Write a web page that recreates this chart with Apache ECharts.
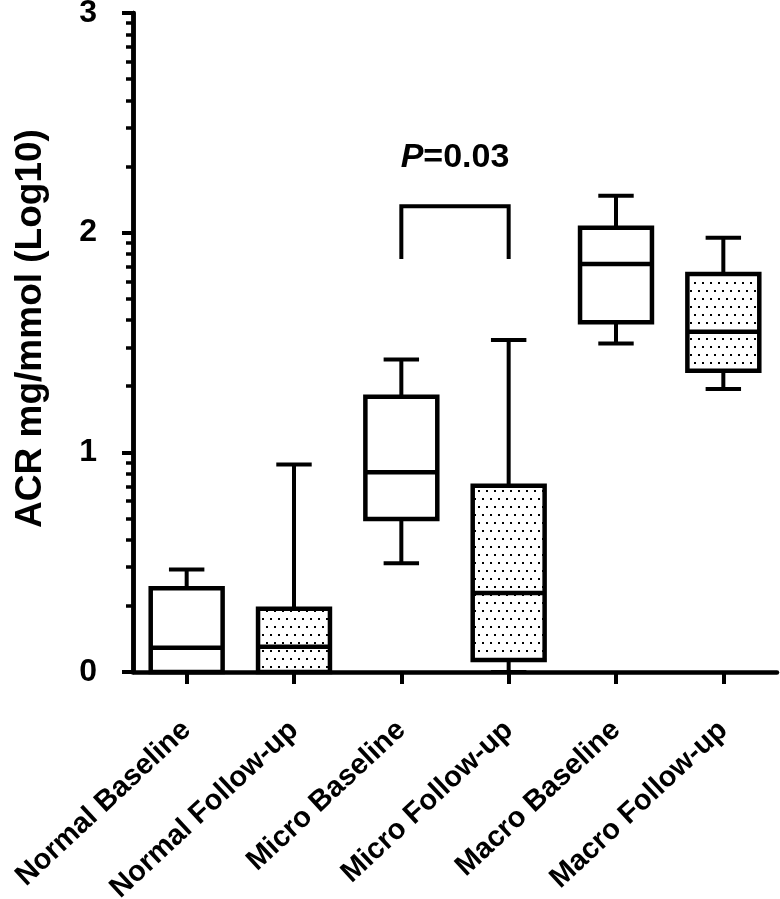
<!DOCTYPE html>
<html>
<head>
<meta charset="utf-8">
<script src="https://cdn.jsdelivr.net/npm/echarts@6/dist/echarts.min.js"></script>
<style>
html,body{margin:0;padding:0;background:#fff;}
#chart{width:780px;height:899px;}
</style>
</head>
<body>
<div id="chart"></div>
<script>
// ---- data ----
const categories = ['Normal Baseline','Normal Follow-up','Micro Baseline','Micro Follow-up','Macro Baseline','Macro Follow-up'];
const whiskerLow  = [0,     0,     0.495, 0,     1.496, 1.288];
const q1          = [0,     0,     0.696, 0.055, 1.592, 1.371];
const median      = [0.11,  0.115, 0.909, 0.36,  1.857, 1.549];
const q3          = [0.381, 0.288, 1.253, 0.848, 2.022, 1.812];
const whiskerHigh = [0.467, 0.945, 1.423, 1.511, 2.168, 1.977];
const dotted      = [0, 1, 0, 1, 0, 1];

const majorTicks = [0, 1, 2, 3];
const minorTicks = [0.301,0.477,0.602,0.699,0.778,0.845,0.903,0.954,
                    1.301,1.477,1.602,1.699,1.778,1.845,1.903,1.954,
                    2.301,2.477,2.602,2.699,2.778,2.845,2.903,2.954];

const sigFrom = 2, sigTo = 3;
const sigTop = 2.12, sigBottom = 1.88, sigLabelY = 2.34;
const sigItalic = 'P', sigRest = '=0.03';

const yTitle = 'ACR mg/mmol (Log10)';
// ---------------

const FONT = '"Liberation Sans", Arial, Helvetica, sans-serif';

// dot pattern
const pc = document.createElement('canvas');
pc.width = 8; pc.height = 16;
const pctx = pc.getContext('2d');
pctx.fillStyle = '#fff'; pctx.fillRect(0,0,8,16);
pctx.fillStyle = '#000';
pctx.fillRect(2,2,2,2);
pctx.fillRect(6,10,2,2);
const dotPattern = {image: pc, repeat: 'repeat'};

const boxData = categories.map((c,i)=>[i, whiskerLow[i], q1[i], median[i], q3[i], whiskerHigh[i], dotted[i]]);

function renderBox(params, api){
  const i = api.value(0);
  const lo = api.value(1), a = api.value(2), m = api.value(3), b = api.value(4), hi = api.value(5), dot = api.value(6);
  const band = api.size([1,0])[0];
  const bw = band*0.67, cw = band*0.33;
  const pHi = api.coord([i,hi]), pB = api.coord([i,b]), pM = api.coord([i,m]), pA = api.coord([i,a]), pLo = api.coord([i,lo]);
  const x = pHi[0];
  const ls = {stroke:'#000', lineWidth:4, fill:null};
  const ch = [];
  ch.push({type:'line', shape:{x1:x,y1:pB[1],x2:x,y2:pHi[1]}, style:ls});
  ch.push({type:'line', shape:{x1:x-cw/2,y1:pHi[1],x2:x+cw/2,y2:pHi[1]}, style:ls});
  if (lo < a) {
    ch.push({type:'line', shape:{x1:x,y1:pA[1],x2:x,y2:pLo[1]}, style:ls});
    ch.push({type:'line', shape:{x1:x-cw/2,y1:pLo[1],x2:x+cw/2,y2:pLo[1]}, style:ls});
  }
  ch.push({type:'rect', shape:{x:x-bw/2, y:pB[1], width:bw, height:pA[1]-pB[1]},
           style:{fill: dot ? dotPattern : '#fff', stroke:'#000', lineWidth:4.5}});
  ch.push({type:'line', shape:{x1:x-bw/2,y1:pM[1],x2:x+bw/2,y2:pM[1]}, style:{stroke:'#000', lineWidth:4.5}});
  return {type:'group', children:ch};
}

function renderSig(params, api){
  const p1t = api.coord([api.value(0), api.value(2)]);
  const p2t = api.coord([api.value(1), api.value(2)]);
  const pb = api.coord([api.value(0), api.value(3)]);
  const pl = api.coord([api.value(0), api.value(4)]);
  return {type:'group', children:[
    {type:'polyline', shape:{points:[[p1t[0],pb[1]],[p1t[0],p1t[1]],[p2t[0],p2t[1]],[p2t[0],pb[1]]]},
     style:{stroke:'#000', lineWidth:4, fill:null}},
    {type:'text', style:{
      x:(p1t[0]+p2t[0])/2, y:pl[1], align:'center', verticalAlign:'middle',
      text:'{i|'+sigItalic+'}{n|'+sigRest+'}',
      rich:{
        i:{fontSize:34, fontWeight:'bold', fontStyle:'italic', fontFamily:FONT, fill:'#000'},
        n:{fontSize:34, fontWeight:'bold', fontFamily:FONT, fill:'#000'}
      }
    }}
  ]};
}

const chart = echarts.init(document.getElementById('chart'), null, {renderer:'canvas'});
chart.setOption({
  animation:false,
  backgroundColor:'#fff',
  grid:{left:133, right:3, top:13, bottom:227, containLabel:false, outerBoundsMode:'none'},
  xAxis:{
    type:'category', data:categories, boundaryGap:true,
    axisLine:{show:true, lineStyle:{color:'#000', width:4.5}},
    axisTick:{show:true, alignWithLabel:true, length:12, lineStyle:{color:'#000', width:4}},
    axisLabel:{interval:0, rotate:43, margin:54, color:'#000', fontSize:29, fontWeight:'bold', fontFamily:FONT},
    splitLine:{show:false}
  },
  yAxis:[{
    type:'value', min:0, max:3, interval:1, position:'left',
    axisLine:{show:true, lineStyle:{color:'#000', width:4.5}},
    axisTick:{show:true, length:11, lineStyle:{color:'#000', width:4}, customValues: majorTicks},
    axisLabel:{color:'#000', fontSize:32, fontWeight:'bold', fontFamily:FONT, margin:36, customValues: majorTicks},
    splitLine:{show:false},
    name:yTitle, nameLocation:'middle', nameGap:84, nameRotate:90,
    nameTextStyle:{color:'#000', fontSize:37, fontWeight:'bold', fontFamily:FONT, padding:[0,0,0,28]}
  },{
    type:'value', min:0, max:3, interval:1, position:'left', offset:0,
    axisLine:{show:true, lineStyle:{color:'#000', width:4.5}},
    axisTick:{show:true, length:7, lineStyle:{color:'#000', width:3.5}, customValues: minorTicks},
    axisLabel:{show:true, color:'rgba(0,0,0,0)', customValues: minorTicks, formatter: function(){ return ''; }},
    splitLine:{show:false}
  }],
  series:[{
    type:'custom', renderItem:renderBox, data:boxData,
    encode:{x:0, y:[1,2,3,4,5]}, clip:false, z:3
  },{
    type:'custom', renderItem:renderSig, data:[[sigFrom, sigTo, sigTop, sigBottom, sigLabelY]],
    encode:{x:[0,1], y:[2,3,4]}, clip:false, z:3
  }]
});
</script>
</body>
</html>
